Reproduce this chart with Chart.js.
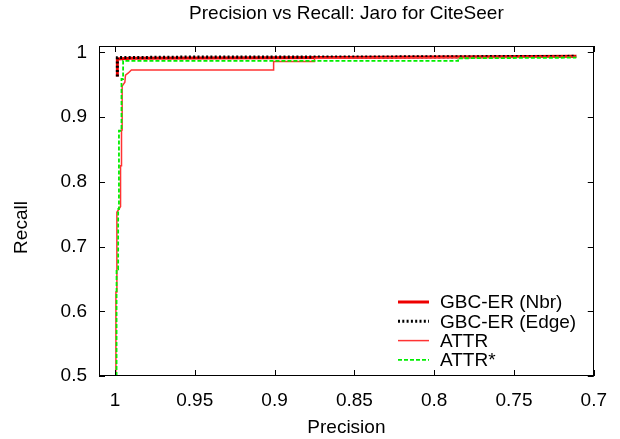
<!DOCTYPE html>
<html>
<head>
<meta charset="utf-8">
<script src="https://cdn.jsdelivr.net/npm/chart.js@4/dist/chart.umd.min.js"></script>
<style>
  html, body { margin: 0; padding: 0; background: #fff; }
  #wrap { width: 620px; height: 439px; }
</style>
</head>
<body>
<div id="wrap"><canvas id="prChart" width="620" height="439"></canvas></div>
<script>
// Precision / Recall pairs (step curves)
const nbrPrecision  = [0.9985, 0.9985, 0.99, 0.90, 0.80, 0.711];
const nbrRecall     = [0.963, 0.990, 0.991, 0.992, 0.993, 0.994];

const edgePrecision = [0.9985, 0.9985, 0.95, 0.85, 0.711];
const edgeRecall    = [0.963, 0.992, 0.993, 0.993, 0.994];

const attrPrecision = [0.9994, 0.9994, 0.9988, 0.9988, 0.9965, 0.9965, 0.9959, 0.9959, 0.9955, 0.9955, 0.9938, 0.9934, 0.9918, 0.9897, 0.9006, 0.9006, 0.875, 0.875, 0.711];
const attrRecall    = [0.50, 0.63, 0.63, 0.753, 0.762, 0.825, 0.825, 0.88, 0.88, 0.948, 0.954, 0.965, 0.968, 0.973, 0.973, 0.986, 0.986, 0.991, 0.993];

const attrStarPrecision = [0.9990, 0.9990, 0.998, 0.998, 0.9975, 0.9975, 0.9959, 0.9959, 0.9949, 0.9949, 0.785, 0.785, 0.711];
const attrStarRecall    = [0.50, 0.665, 0.665, 0.758, 0.758, 0.879, 0.879, 0.959, 0.959, 0.987, 0.987, 0.991, 0.992];

const xTicks = [1, 0.95, 0.9, 0.85, 0.8, 0.75, 0.7];
const yTicks = [0.5, 0.6, 0.7, 0.8, 0.9, 1];

const FONT = "'Liberation Sans', Arial, Helvetica, sans-serif";

function toPoints(xs, ys) {
    return xs.map((x, i) => ({ x: x, y: ys[i] }));
}

// gnuplot-like frame with inward ticks on all four sides, plus the y label
const framePlugin = {
    id: 'frame',
    afterDatasetsDraw(chart) {
        const { ctx, chartArea: a, scales: { x, y } } = chart;
        ctx.save();
        ctx.strokeStyle = '#000';
        ctx.lineWidth = 1;
        ctx.strokeRect(Math.round(a.left) + 0.5, Math.round(a.top) + 0.5,
            Math.round(a.width) - 1, Math.round(a.height) - 1);
        ctx.beginPath();
        x.ticks.forEach(t => {
            const px = Math.round(x.getPixelForValue(t.value)) + 0.5;
            ctx.moveTo(px, a.bottom); ctx.lineTo(px, a.bottom - 6);
            ctx.moveTo(px, a.top); ctx.lineTo(px, a.top + 6);
        });
        y.ticks.forEach(t => {
            const py = Math.round(y.getPixelForValue(t.value)) + 0.5;
            ctx.moveTo(a.left, py); ctx.lineTo(a.left + 6, py);
            ctx.moveTo(a.right, py); ctx.lineTo(a.right - 6, py);
        });
        ctx.stroke();

        // "Recall" sits a little below the middle of the frame
        ctx.translate(22, a.top + a.height * 0.55);
        ctx.rotate(-Math.PI / 2);
        ctx.font = '19px ' + FONT;
        ctx.fillStyle = '#000';
        ctx.textAlign = 'center';
        ctx.textBaseline = 'middle';
        ctx.fillText('Recall', 0, 0);
        ctx.restore();
    }
};

// key inside bottom-right, sample first then text
const keyPlugin = {
    id: 'key',
    afterDraw(chart) {
        const { ctx } = chart;
        ctx.save();
        ctx.font = '19px ' + FONT;
        ctx.textBaseline = 'middle';
        ctx.fillStyle = '#000';
        chart.data.datasets.forEach((ds, i) => {
            const yy = 302 + i * 19.3;
            ctx.beginPath();
            ctx.strokeStyle = ds.borderColor;
            ctx.lineWidth = ds.borderWidth;
            ctx.setLineDash(ds.borderDash || []);
            ctx.moveTo(398, yy); ctx.lineTo(429, yy);
            ctx.stroke();
            ctx.setLineDash([]);
            ctx.fillText(ds.label, 440, yy + 1);
        });
        ctx.restore();
    }
};

new Chart(document.getElementById('prChart'), {
    type: 'scatter',
    plugins: [framePlugin, keyPlugin],
    data: {
        datasets: [
            {
                label: 'GBC-ER (Nbr)',
                data: toPoints(nbrPrecision, nbrRecall),
                showLine: true, borderColor: '#ee0000', borderWidth: 3,
                pointRadius: 0, order: 4
            },
            {
                label: 'GBC-ER (Edge)',
                data: toPoints(edgePrecision, edgeRecall),
                showLine: true, borderColor: '#000000', borderWidth: 3,
                borderDash: [2, 2.3], pointRadius: 0, order: 3
            },
            {
                label: 'ATTR',
                data: toPoints(attrPrecision, attrRecall),
                showLine: true, borderColor: '#ff3333', borderWidth: 1.5,
                pointRadius: 0, order: 2
            },
            {
                label: 'ATTR*',
                data: toPoints(attrStarPrecision, attrStarRecall),
                showLine: true, borderColor: '#00ee00', borderWidth: 1.8,
                borderDash: [4, 2], pointRadius: 0, order: 1
            }
        ]
    },
    options: {
        responsive: false,
        animation: false,
        layout: { padding: { left: 0, right: 17, top: 0, bottom: 0 } },
        plugins: {
            legend: { display: false },
            tooltip: { enabled: false },
            title: {
                display: true,
                fullSize: false,
                text: 'Precision vs Recall: Jaro for CiteSeer',
                color: '#000',
                font: { family: FONT, size: 19, weight: 'normal' },
                padding: { top: 2, bottom: 21.2 }
            }
        },
        scales: {
            x: {
                type: 'linear',
                reverse: true,
                min: 0.7,
                max: 1.01,
                afterBuildTicks: s => { s.ticks = xTicks.map(v => ({ value: v })); },
                afterFit: s => { s.height = 63; },
                grid: { display: false, drawTicks: false },
                border: { display: false },
                ticks: {
                    color: '#000', padding: 13,
                    font: { family: FONT, size: 19 },
                    callback: v => String(v)
                },
                title: {
                    display: true, text: 'Precision', color: '#000',
                    font: { family: FONT, size: 19 },
                    padding: { top: 0, bottom: 0 }
                }
            },
            y: {
                type: 'linear',
                min: 0.5,
                max: 1.01,
                afterBuildTicks: s => { s.ticks = yTicks.map(v => ({ value: v })); },
                afterFit: s => { s.width = 99; },
                grid: { display: false, drawTicks: false },
                border: { display: false },
                ticks: {
                    color: '#000', padding: 12,
                    font: { family: FONT, size: 19 },
                    callback: v => String(v)
                }
            }
        }
    }
});
</script>
</body>
</html>
